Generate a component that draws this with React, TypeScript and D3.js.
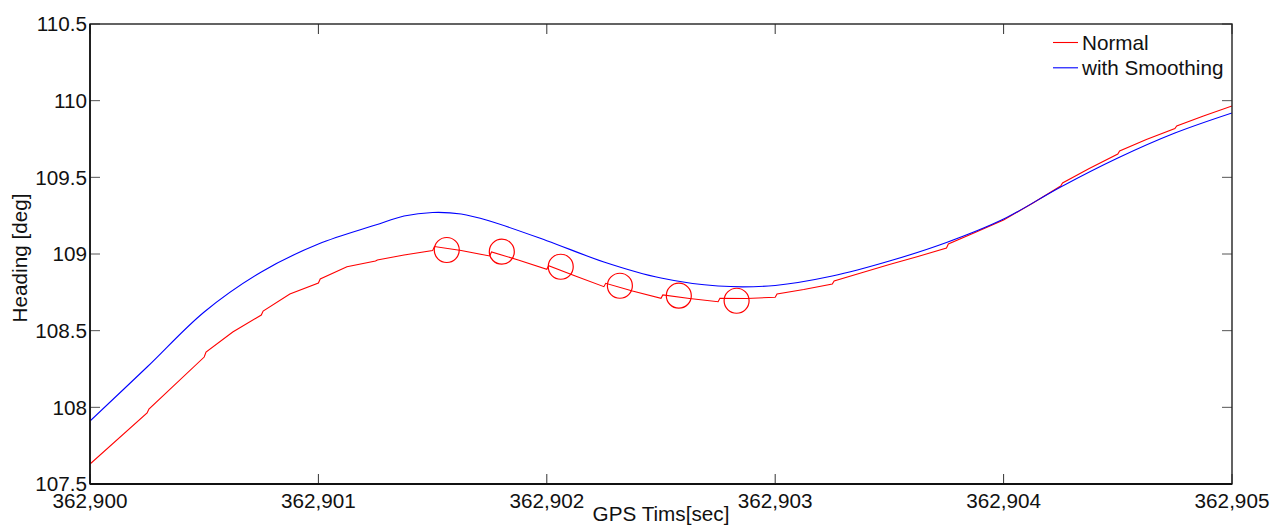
import React from "react";
import * as d3 from "d3";

const redT = [
  362.9, 362.90025, 362.900258, 362.9005, 362.900508, 362.900625, 362.90075, 362.900758, 362.900875,
  362.901, 362.901008, 362.901125, 362.90125, 362.901258, 362.901375, 362.9015, 362.901508, 362.901625,
  362.90175, 362.901758, 362.901875, 362.902, 362.902008, 362.902125, 362.90225, 362.902258, 362.902375,
  362.9025, 362.902508, 362.902625, 362.90275, 362.902758, 362.902875, 362.903, 362.903008, 362.903125,
  362.90325, 362.903258, 362.903375, 362.9035, 362.903625, 362.90375, 362.903758, 362.903875, 362.904,
  362.904125, 362.90425, 362.904258, 362.904375, 362.9045, 362.904508, 362.904625, 362.90475, 362.904758,
  362.904875, 362.905,
];
const redV = [
  107.63, 107.963, 107.989, 108.328, 108.361, 108.491, 108.602, 108.628, 108.739,
  108.811, 108.837, 108.917, 108.954, 108.961, 108.993, 109.022, 109.049, 109.023,
  108.987, 109.013, 108.961, 108.9, 108.924, 108.857, 108.787, 108.809, 108.759,
  108.711, 108.733, 108.71, 108.689, 108.711, 108.71, 108.718, 108.739, 108.768,
  108.804, 108.824, 108.876, 108.931, 108.984, 109.039, 109.065, 109.14, 109.222,
  109.329, 109.443, 109.463, 109.558, 109.652, 109.672, 109.747, 109.818, 109.835,
  109.9, 109.965,
];

const blueT = [
  362.9, 362.90025, 362.9005, 362.90075, 362.901, 362.90125, 362.901375, 362.9015, 362.901625,
  362.90175, 362.902, 362.90225, 362.9025, 362.90275, 362.903, 362.90325, 362.9035, 362.90375,
  362.904, 362.90425, 362.9045, 362.90475, 362.905,
];
const blueV = [
  107.911, 108.263, 108.622, 108.883, 109.065, 109.189, 109.248, 109.271, 109.261,
  109.215, 109.087, 108.948, 108.843, 108.791, 108.795, 108.856, 108.954, 109.075,
  109.228, 109.437, 109.626, 109.789, 109.92,
];

const markerT = [362.901562, 362.901803, 362.902061, 362.90232, 362.902578, 362.902831];
const markerV = [109.026, 109.015, 108.917, 108.793, 108.728, 108.695];

const xTicks = [362.9, 362.901, 362.902, 362.903, 362.904, 362.905];
const xTickLabels = ["362,900", "362,901", "362,902", "362,903", "362,904", "362,905"];
const yTicks = [107.5, 108, 108.5, 109, 109.5, 110, 110.5];
const yTickLabels = ["107.5", "108", "108.5", "109", "109.5", "110", "110.5"];

const seriesNames = ["Normal", "with Smoothing"];
const seriesColors = ["#ff0000", "#0000ff"];

const W = 1273;
const H = 531;
const L = 90, R = 1232, T = 24, B = 484;
const FONT = "Arial, 'Liberation Sans', sans-serif";
const FS = 20.7;
const TICK = 10;

export default function App() {
  const x = d3.scaleLinear().domain([362.9, 362.905]).range([L, R]);
  const y = d3.scaleLinear().domain([107.5, 110.5]).range([B, T]);

  const redLine = d3
    .line<[number, number]>()
    .x((d) => x(d[0]))
    .y((d) => y(d[1]))
    .curve(d3.curveLinear);
  const blueLine = d3
    .line<[number, number]>()
    .x((d) => x(d[0]))
    .y((d) => y(d[1]))
    .curve(d3.curveCatmullRom.alpha(0.5));

  const red: [number, number][] = redT.map((t, i) => [t, redV[i]]);
  const blue: [number, number][] = blueT.map((t, i) => [t, blueV[i]]);

  return (
    <svg
      width={W}
      height={H}
      style={{ position: "absolute", left: 0, top: 0, background: "#fff" }}
      fontFamily={FONT}
    >
      <rect x={0} y={0} width={W} height={H} fill="#fff" />
      <defs>
        <clipPath id="plot">
          <rect x={L} y={T} width={R - L} height={B - T} />
        </clipPath>
      </defs>

      {yTicks.map((v) => (
        <g key={"yt" + v}>
          <line x1={L} x2={L + TICK} y1={y(v)} y2={y(v)} stroke="#555" strokeWidth={1} />
          <line x1={R} x2={R - TICK} y1={y(v)} y2={y(v)} stroke="#555" strokeWidth={1} />
        </g>
      ))}
      {xTicks.map((v) => (
        <g key={"xt" + v}>
          <line x1={x(v)} x2={x(v)} y1={B} y2={B - TICK} stroke="#333" strokeWidth={1} />
          <line x1={x(v)} x2={x(v)} y1={T} y2={T + TICK} stroke="#333" strokeWidth={1} />
        </g>
      ))}

      <g clipPath="url(#plot)">
        <path d={redLine(red) || ""} fill="none" stroke={seriesColors[0]} strokeWidth={1.1} />
        <path d={blueLine(blue) || ""} fill="none" stroke={seriesColors[1]} strokeWidth={1.1} />
        {markerT.map((t, i) => (
          <circle
            key={"m" + i}
            cx={x(t)}
            cy={y(markerV[i])}
            r={12.5}
            fill="none"
            stroke={seriesColors[0]}
            strokeWidth={1.2}
          />
        ))}
      </g>

      <rect x={L} y={T} width={R - L} height={B - T} fill="none" stroke="#222" strokeWidth={1.4} />
      <line x1={L} x2={R} y1={B} y2={B} stroke="#111" strokeWidth={2} />
      <line x1={L} x2={L} y1={T} y2={B} stroke="#111" strokeWidth={1.6} />

      {yTicks.map((v, i) => (
        <text
          key={"yl" + v}
          x={L - 3}
          y={y(v)}
          dy="0.36em"
          textAnchor="end"
          fontSize={FS}
          fill="#111"
        >
          {yTickLabels[i]}
        </text>
      ))}
      {xTicks.map((v, i) => (
        <text key={"xl" + v} x={x(v)} y={507.5} textAnchor="middle" fontSize={FS} fill="#111">
          {xTickLabels[i]}
        </text>
      ))}

      <text x={(L + R) / 2} y={521} textAnchor="middle" fontSize={FS} fill="#111">
        GPS Tims[sec]
      </text>
      <text
        transform={`translate(26.5, ${(T + B) / 2 + 4}) rotate(-90)`}
        textAnchor="middle"
        fontSize={FS}
        fill="#111"
      >
        Heading [deg]
      </text>

      {seriesNames.map((name, i) => {
        const ly = 42.5 + i * 25.3;
        return (
          <g key={"lg" + i}>
            <line x1={1053} x2={1078} y1={ly} y2={ly} stroke={seriesColors[i]} strokeWidth={1.1} />
            <text x={1082} y={ly} dy="0.36em" fontSize={FS} fill="#111">
              {name}
            </text>
          </g>
        );
      })}
    </svg>
  );
}
